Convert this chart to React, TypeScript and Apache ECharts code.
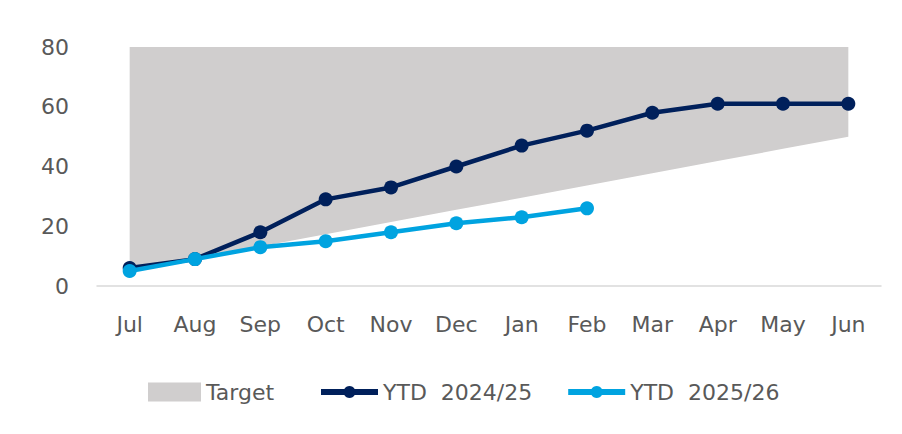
import React, { useEffect, useRef } from "react";
import * as echarts from "echarts";

const months = ["Jul", "Aug", "Sep", "Oct", "Nov", "Dec", "Jan", "Feb", "Mar", "Apr", "May", "Jun"];
const targetLow = [5, 9.1, 13.2, 17.3, 21.4, 25.5, 29.5, 33.6, 37.7, 41.8, 45.9, 50];
const targetHigh = [80, 80, 80, 80, 80, 80, 80, 80, 80, 80, 80, 80];
const ytd2425 = [6, 9, 18, 29, 33, 40, 47, 52, 58, 61, 61, 61];
const ytd2526 = [5, 9, 13, 15, 18, 21, 23, 26];

const FONT = "DejaVu Sans";
const TXT = "#595959";
const NAVY = "#00205b";
const SKY = "#00a3e0";

export default function App() {
  const ref = useRef<HTMLDivElement>(null);
  useEffect(() => {
    if (!ref.current) return;
    const chart = echarts.init(ref.current, null, { renderer: "svg" });
    const textStyle = { fontFamily: FONT, fontSize: 22, color: TXT };
    chart.setOption({
      animation: false,
      backgroundColor: "#ffffff",
      grid: { left: 97, right: 21, top: 47, bottom: 148 },
      legend: [
        {
          left: 143,
          top: 376,
          itemWidth: 53,
          itemHeight: 19,
          itemGap: 5,
          textStyle,
          data: [{ name: "Target", icon: "rect" }],
        },
        {
          left: 313,
          top: 376,
          itemWidth: 57,
          itemHeight: 15,
          itemGap: 33,
          textStyle,
          data: [
            { name: "YTD  2024/25", lineStyle: { width: 6 } },
            { name: "YTD  2025/26", lineStyle: { width: 6 } },
          ],
        },
      ],
      xAxis: {
        type: "category",
        data: months,
        boundaryGap: true,
        axisLine: { show: true, lineStyle: { color: "#d9d9d9", width: 1.5 } },
        axisTick: { show: false },
        axisLabel: { ...textStyle, margin: 27 },
      },
      yAxis: {
        type: "value",
        min: 0,
        max: 80,
        interval: 20,
        splitLine: { show: false },
        axisLine: { show: false },
        axisTick: { show: false },
        axisLabel: { ...textStyle, margin: 28 },
      },
      series: [
        {
          name: "base",
          type: "line",
          stack: "target",
          data: targetLow,
          symbol: "none",
          lineStyle: { width: 0, opacity: 0 },
          areaStyle: { opacity: 0 },
          silent: true,
          z: 1,
        },
        {
          name: "Target",
          type: "line",
          stack: "target",
          data: targetHigh.map((h, i) => h - targetLow[i]),
          symbol: "none",
          lineStyle: { width: 0, opacity: 0 },
          areaStyle: { color: "#d0cece", opacity: 1 },
          itemStyle: { color: "#d0cece" },
          z: 1,
        },
        {
          name: "YTD  2024/25",
          type: "line",
          data: ytd2425,
          symbol: "circle",
          symbolSize: 14,
          lineStyle: { color: NAVY, width: 4.5 },
          itemStyle: { color: NAVY },
          z: 3,
        },
        {
          name: "YTD  2025/26",
          type: "line",
          data: ytd2526,
          symbol: "circle",
          symbolSize: 14,
          lineStyle: { color: SKY, width: 4.5 },
          itemStyle: { color: SKY },
          z: 4,
        },
      ],
    });
    return () => chart.dispose();
  }, []);
  return <div ref={ref} style={{ width: 902, height: 434, marginLeft: -8, marginTop: -8 }} />;
}
